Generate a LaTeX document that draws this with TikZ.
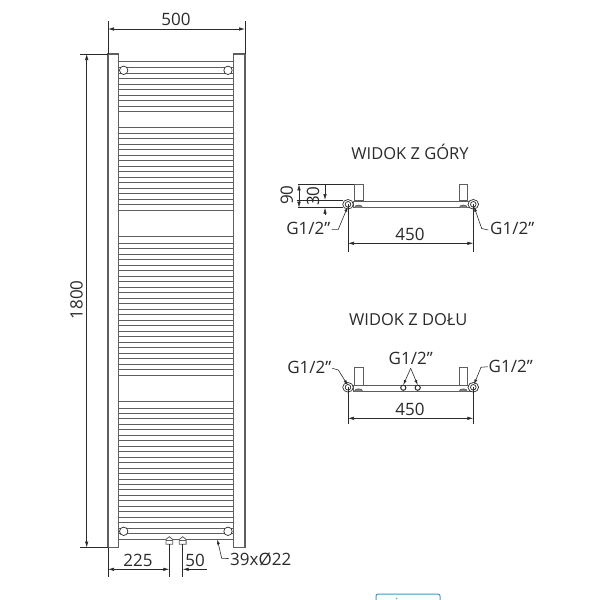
\documentclass[tikz,border=0pt]{standalone}
\usepackage{fontspec}
\setmainfont{Open Sans}
\usetikzlibrary{arrows.meta}
\definecolor{ink}{HTML}{2A2A2A}
\definecolor{railc}{HTML}{5E5E5E}
\definecolor{bluebox}{HTML}{3A9CC8}
\tikzset{
  lbl/.style={font=\fontsize{17}{19}\selectfont,text=ink,inner sep=0pt},
  ttl/.style={font=\fontsize{16.5}{19}\selectfont,text=ink,inner sep=0pt},
  dim/.style={draw=ink,line width=0.6pt},
  dimarrow/.style={dim,{Latex[length=6pt,width=3.5pt]}-{Latex[length=6pt,width=3.5pt]}},
  lead/.style={dim,-{Latex[length=5pt,width=3pt]}},
  part/.style={draw=railc,line width=0.8pt},
  rail/.style={draw=railc,line width=0.9pt},
  port/.style={draw=ink,line width=0.7pt,fill=white},
}
\begin{document}
\begin{tikzpicture}[x=1pt,y=-1pt]
\useasboundingbox (0,0) rectangle (600,600);
% --- posts
\draw[part,line width=1.1pt] (108,54) rectangle (118.7,547.5);
\draw[part,line width=1.1pt] (233.7,54) rectangle (245,547.5);
% --- rails
\foreach \y in {61.7,67.7,73,78.7,84,89.3,95,100.7,106,111.3}
  \draw[rail] (118.7,\y) -- (233.7,\y);
\foreach \i in {0,...,14}
  \draw[rail] (118.7,{133.3+\i*5.5}) -- (233.7,{133.3+\i*5.5});
\draw[rail] (118.7,127) -- (233.7,127);
\draw[rail] (118.7,236.7) -- (233.7,236.7);
\foreach \i in {0,...,24}
  \draw[rail] (118.7,{243+\i*5.5}) -- (233.7,{243+\i*5.5});
\draw[rail] (118.7,401.7) -- (233.7,401.7);
\foreach \i in {0,...,24}
  \draw[rail] (118.7,{408+\i*5.46}) -- (233.7,{408+\i*5.46});
% --- corner ports
\foreach \x in {123.7,228}
  \foreach \y in {70.3,531.3}
    \draw[port] (\x,\y) circle (4.2);
% --- overall dimensions
\draw[dim] (108,21) -- (108,54);
\draw[dim] (245,21) -- (245,54);
\draw[dimarrow] (108,29) -- (245,29);
\node[lbl] (w500) at (176,19) {500};
\draw[dim] (80,54) -- (108,54);
\draw[dim] (80,547.5) -- (108,547.5);
\draw[dimarrow] (86.7,54) -- (86.7,547.5);
\node[lbl,rotate=90] (h1800) at (76.5,300) {1800};
% --- valves
\foreach \x in {169.3,182.7}{
  \draw[part,fill=white] (\x-3.4,544.3) -- (\x-3.4,539.5) -- (\x,536.7) -- (\x+3.4,539.5) -- (\x+3.4,544.3) -- cycle;
  \draw[part] (\x-3.4,540.5) -- (\x+3.4,540.5);
  \draw[dim] (\x,544.3) -- (\x,577);
}
\draw[dim] (108,547.5) -- (108,577);
\draw[dim,{Latex[length=6pt,width=3.5pt]}-{Latex[length=6pt,width=3.5pt]}] (108,569.3) -- (169.3,569.3);
\draw[dim,{Latex[length=6pt,width=3.5pt]}-] (182.7,569.3) -- (206.7,569.3);
\node[lbl] (d225) at (138,560) {225};
\node[lbl] (d50) at (195,560) {50};
\node[lbl,anchor=west] (tubes) at (230,559) {39xØ22};
\coordinate (tubetip) at (217.3,539.3);
\draw[lead] (tubes.west) ++(-1.5,-0.5) -- (221.7,558.3) -- (tubetip);
% --- top view
\node[ttl] (topttl) at (410,152.3) {WIDOK Z GÓRY};
\draw[part] (354.3,184.3) rectangle (363,200);
\draw[part] (459,184.3) rectangle (467.7,200);
\draw[part] (353,201) rectangle (470,207.7);
\draw[part,fill=gray] (354.5,207.7) arc[start angle=180,end angle=360,x radius=4,y radius=2.6];
\draw[part,fill=gray] (459.3,207.7) arc[start angle=180,end angle=360,x radius=4,y radius=2.6];
\foreach \x in {348,473.3}{
  \draw[port] (\x,204.3) ellipse (5.3 and 4.8);
  \draw[port] (\x,204.3) circle (2.8);
}
\draw[dim] (298.3,184.3) -- (354.3,184.3);
\draw[dim] (296.7,200) -- (343,200);
\draw[dim] (298.3,207.7) -- (343,207.7);
\draw[dimarrow] (299,184.3) -- (299,207.7);
\draw[dim,-{Latex[length=6pt,width=3.5pt]}] (325,184.3) -- (325,200);
\draw[dim,-{Latex[length=6pt,width=3.5pt]}] (325,215) -- (325,207.7);
\node[lbl,rotate=90] (t90) at (286.7,195) {90};
\node[lbl,rotate=90] (t30) at (313,196) {30};
\draw[dim] (348,204.3) -- (348,252);
\draw[dim] (473.3,204.3) -- (473.3,252);
\draw[dimarrow] (348,243.3) -- (473.3,243.3);
\node[lbl] (t450) at (410,234) {450};
\node[lbl,anchor=east] (tgl) at (330.5,228) {G1/2"};
\node[lbl,anchor=west] (tgr) at (490,228) {G1/2"};
\draw[lead] (331.7,229.3) -- (338.3,229.3) -- (347.7,206.7);
\draw[lead] (488.3,230) -- (481.7,228.5) -- (474,206.7);
% --- bottom view
\node[ttl] (botttl) at (408.3,320) {WIDOK Z DOŁU};
\draw[part] (354.3,367.7) rectangle (363,385);
\draw[part] (459,367.7) rectangle (467.7,385);
\draw[part] (353,385) rectangle (470,391.3);
\draw[part,fill=gray] (354.5,391.3) arc[start angle=180,end angle=360,x radius=4,y radius=2.4];
\draw[part,fill=gray] (459.3,391.3) arc[start angle=180,end angle=360,x radius=4,y radius=2.4];
\foreach \x in {348,473.3}{
  \draw[port] (\x,387.3) ellipse (5.3 and 4.8);
  \draw[port] (\x,387.3) circle (2.8);
}
\draw[port,line width=1pt] (403.3,387.7) circle (2.6);
\draw[port,line width=1pt] (417.7,387.7) circle (2.6);
\draw[dim] (348,387.3) -- (348,424);
\draw[dim] (473.3,387.3) -- (473.3,424);
\draw[dimarrow] (348,418.3) -- (473.3,418.3);
\node[lbl] (b450) at (410,409.3) {450};
\node[lbl] (bgc) at (410.7,358.3) {G1/2"};
\node[lbl,anchor=east] (bgl) at (331.5,367.7) {G1/2"};
\node[lbl,anchor=west] (bgr) at (488.5,366.7) {G1/2"};
\coordinate (bfork) at (410.7,368.3);
\draw[lead] (bfork) -- (403.3,385);
\draw[lead] (bfork) -- (417.7,385);
\draw[lead] (332.3,368.3) -- (338.3,370) -- (347.7,385);
\draw[lead] (487.7,366.7) -- (481,367.3) -- (474,384.3);
% --- clipped fragment at the bottom edge
\begin{scope}
\clip (0,0) rectangle (600,600);
\draw[bluebox,line width=1pt,rounded corners=2pt] (376,594) rectangle (440,610);
\fill[gray!70] (396.7,598.5) circle (1);
\end{scope}
\end{tikzpicture}
\end{document}
